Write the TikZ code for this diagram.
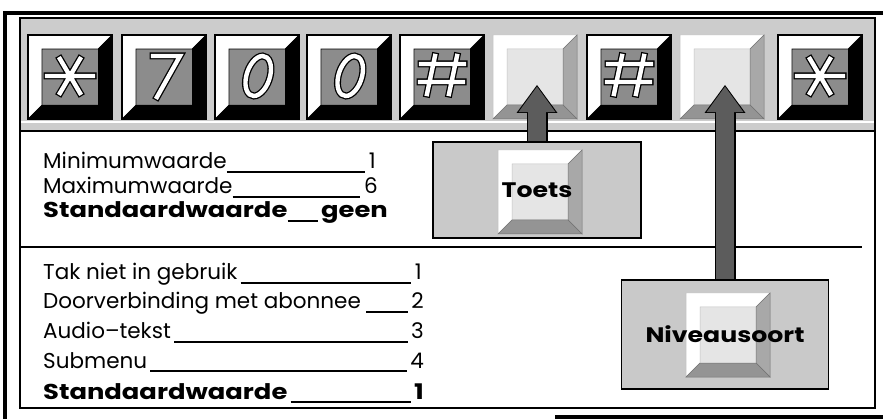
\documentclass[tikz,border=0pt]{standalone}
\usepackage{fontspec}
\setmainfont{Poppins}[BoldFeatures={FakeStretch=1.2}]
\usetikzlibrary{arrows.meta}

\definecolor{bandgray}{gray}{0.80}
\definecolor{facegray}{gray}{0.55}
\definecolor{lightface}{gray}{0.90}
\definecolor{lightside}{gray}{0.66}
\definecolor{lightbase}{gray}{0.58}
\definecolor{boxgray}{gray}{0.79}
\definecolor{arrowgray}{gray}{0.36}

\tikzset{
  lbl/.style={inner sep=0pt, font=\fontsize{21.5}{24}\selectfont},
  bold lbl/.style={inner sep=0pt, font=\fontsize{21.5}{24}\selectfont\bfseries},
  box label/.style={inner sep=0pt, font=\fontsize{21}{24}\selectfont\bfseries},
  rule/.style={line width=1.3pt},
  infobox/.style={draw, line width=1.6pt, fill=boxgray, inner sep=0pt},
  glyph out/.style={line width=7pt, line cap=rect, line join=miter},
  glyph in/.style={white, line width=4.4pt, line cap=rect, line join=miter},
  arrow out/.style={line width=21pt, -{Triangle[width=41pt,length=28pt,line width=0pt]}},
  arrow in/.style={arrowgray, line width=18pt, shorten >=1.6pt,
    -{Triangle[width=37pt,length=25.5pt,line width=0pt]}},
}

% blank key, top-left corner given
\newcommand{\blankkey}[2]{%
  \fill[lightface] (#1+14,#2+14) rectangle (#1+70,#2+70);
  \filldraw[white, draw=black!25, line width=0.5pt] (#1,#2) -- (#1+84,#2) -- (#1+70,#2+14)
    -- (#1+14,#2+14) -- (#1+14,#2+70) -- (#1,#2+84) -- cycle;
  \filldraw[lightside, draw=black!55, line width=0.5pt] (#1+84,#2) -- (#1+84,#2+84)
    -- (#1+70,#2+70) -- (#1+70,#2+14) -- cycle;
  \filldraw[lightbase, draw=black!55, line width=0.5pt] (#1,#2+84) -- (#1+84,#2+84)
    -- (#1+70,#2+70) -- (#1+14,#2+70) -- cycle;
}

% glyphs, drawn round the key centre
\newcommand{\starglyph}[1]{\draw[#1] (-23,-1) -- (23,-1) (-10,-18) -- (10,16) (10,-18) -- (-10,16);}
\newcommand{\sevenglyph}[1]{\draw[#1] (-11,-21) -- (16,-21) -- (-7,20);}
\newcommand{\zeroglyph}[1]{\draw[#1, xslant=0.22] (1,-1) ellipse [x radius=12, y radius=20];}
\newcommand{\hashglyph}[1]{\draw[#1] (-21,-13) -- (22,-13) (-22,5) -- (21,5)
  (-7,-21) -- (-15,17) (15,-21) -- (7,17);}
\newcommand{\keyglyph}[2]{\begin{scope}[shift={(#1,77)}] #2{glyph out} #2{glyph in}\end{scope}}

\begin{document}
\begin{tikzpicture}[x=1pt, y=-1pt]
\useasboundingbox (0,0) rectangle (883,419);
\fill[white] (0,0) rectangle (883,419);

% frames
\draw[line width=3.5pt] (3,13) -- (883,13);
\draw[line width=3.5pt] (5,11.5) -- (5,419);
\draw[line width=3.5pt] (555,417) -- (883,417);
\fill[bandgray] (20,18) rectangle (875,131);
\draw[line width=1.8pt] (20,18) rectangle (875,408);
\draw[white, line width=1.2pt] (21,122) -- (874,122);
\draw[line width=2.5pt] (20,131) -- (875,131);

% key row
\foreach \x in {28,122,215,307,400,587,778}{
  \fill[facegray] (\x+14,49) rectangle (\x+70,105);
  \filldraw[white, draw=black, line width=0.6pt] (\x,35) -- (\x+84,35) -- (\x+70,49)
    -- (\x+14,49) -- (\x+14,105) -- (\x,119) -- cycle;
  \fill[black] (\x+84,35) -- (\x+84,119) -- (\x,119) -- (\x+14,105) -- (\x+70,105) -- (\x+70,49) -- cycle;
  \draw[line width=1.2pt] (\x,35) rectangle (\x+84,119);
}
\blankkey{493}{35}
\blankkey{680}{35}

\keyglyph{70}{\starglyph}
\keyglyph{164}{\sevenglyph}
\keyglyph{257}{\zeroglyph}
\keyglyph{349}{\zeroglyph}
\keyglyph{442}{\hashglyph}
\keyglyph{629}{\hashglyph}
\keyglyph{820}{\starglyph}

% separator
\draw[line width=2pt] (20,247) -- (862,247);

% boxes with key icons
\node[infobox, minimum width=208pt, minimum height=96pt] (toets) at (537,190) {};
\blankkey{498}{150}
\node[box label] at (toets.center) {Toets};
\node[infobox, minimum width=207pt, minimum height=109pt] (niveau) at (725,334.5) {};
\blankkey{686}{293}
\node[box label] at (niveau.center) {Niveausoort};

% arrows to the blank keys
\coordinate (tipA) at (537,85);
\coordinate (tipB) at (725,85);
\draw[arrow out] (toets.north) -- (tipA);
\draw[arrow in] (toets.north) -- (tipA);
\draw[arrow out] (niveau.north) -- (tipB);
\draw[arrow in] (niveau.north) -- (tipB);

% upper list
\node[lbl, anchor=base west] (minl) at (43,169) {Minimumwaarde};
\node[lbl, anchor=base east] (minv) at (376,169) {1};
\node[lbl, anchor=base west] (maxl) at (43,194) {Maximumwaarde};
\node[lbl, anchor=base east] (maxv) at (378,194) {6};
\node[bold lbl, anchor=base west] (stdl) at (43,218) {Standaardwaarde};
\node[bold lbl, anchor=base east] (stdv) at (388,218) {geen};
\draw[rule] ([yshift=-3pt]minl.base east) -- ([yshift=-3pt,xshift=-4pt]minv.base west);
\draw[rule] ([yshift=-3pt]maxl.base east) -- ([yshift=-3pt,xshift=-4pt]maxv.base west);
\draw[rule] ([yshift=-3pt]stdl.base east) -- ([yshift=-3pt,xshift=-3pt]stdv.base west);

% lower list
\node[lbl, anchor=base west] (takl) at (43,280) {Tak niet in gebruik};
\node[lbl, anchor=base east] (takv) at (422,280) {1};
\node[lbl, anchor=base west] (doorl) at (43,309) {Doorverbinding met abonnee};
\node[lbl, anchor=base east] (doorv) at (424,309) {2};
\node[lbl, anchor=base west] (audl) at (43,339) {Audio–tekst};
\node[lbl, anchor=base east] (audv) at (424,339) {3};
\node[lbl, anchor=base west] (subl) at (43,368) {Submenu};
\node[lbl, anchor=base east] (subv) at (424,368) {4};
\node[bold lbl, anchor=base west] (std2l) at (43,399) {Standaardwaarde};
\node[bold lbl, anchor=base east] (std2v) at (424,399) {1};
\draw[rule] ([yshift=-3pt,xshift=3pt]takl.base east) -- ([yshift=-3pt,xshift=-4pt]takv.base west);
\draw[rule] ([yshift=-3pt,xshift=5pt]doorl.base east) -- ([yshift=-3pt,xshift=-3pt]doorv.base west);
\draw[rule] ([yshift=-3pt,xshift=3pt]audl.base east) -- ([yshift=-3pt,xshift=-3pt]audv.base west);
\draw[rule] ([yshift=-3pt,xshift=3pt]subl.base east) -- ([yshift=-3pt,xshift=-3pt]subv.base west);
\draw[rule] ([yshift=-3pt,xshift=3pt]std2l.base east) -- ([yshift=-3pt,xshift=-3pt]std2v.base west);
\end{tikzpicture}
\end{document}
